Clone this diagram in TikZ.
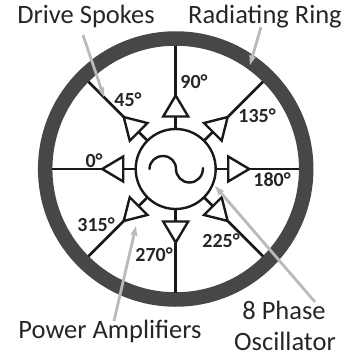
\documentclass[tikz,border=0pt]{standalone}
\usepackage{fontspec}
\setmainfont{Carlito}
\usetikzlibrary{shapes.geometric,arrows.meta,calc}
\tikzset{x=1pt,y=-1pt,
 ampbox/.style={draw=black!90,line width=2.4pt,isosceles triangle,isosceles triangle stretches,minimum height=21pt,minimum width=25pt,inner sep=0pt,outer sep=0pt,anchor=lower side,rotate=#1},
 wire/.style={draw=black!90,line width=2.6pt},
 callout/.style={draw=black!27,line width=2.8pt,-{Stealth[length=10pt,width=7pt,inset=2pt]}},
 lab/.style={font=\fontsize{26.5}{28}\selectfont,text=black!85,inner sep=0pt},
 deg/.style={font=\fontsize{20}{22}\selectfont\bfseries,text=black!85,inner sep=0pt}}
\begin{document}
\begin{tikzpicture}
\useasboundingbox (0,0) rectangle (346,356);
\coordinate (c) at (175.7,169);
\node[draw=black!72,line width=14.5pt,circle,minimum size=261pt,inner sep=0pt,outer sep=0pt] (ring) at (c) {};
\node[draw=black!90,line width=2.4pt,circle,minimum size=80pt,inner sep=0pt,outer sep=0pt] (osc) at (c) {};
\draw[black!90,line width=2.4pt,line cap=round] (149.5,169) .. controls (149.5,161.6) and (155.6,156) .. (163,156) .. controls (170.4,156) and (176,161.6) .. (176,169) .. controls (176,176.4) and (182,182.5) .. (189.5,182.5) .. controls (197,182.5) and (203,176.4) .. (203,168);
\foreach \n/\a in {0/180,45/135,90/90,135/45,180/0,225/-45,270/-90,315/-135}{
  \coordinate (b\n) at ($(c)+({52.5*cos(\a)},{-52.5*sin(\a)})$);
  \coordinate (e\n) at ($(c)+({123.5*cos(\a)},{-123.5*sin(\a)})$);
  \node[ampbox=\a] (amp\n) at (b\n) {};
  \draw[wire] (osc.\a) -- (amp\n.lower side);
  \draw[wire] (amp\n.apex) -- (e\n);
}
\node[deg] (d0) at (94,161) {0°};
\node[deg] (d45) at (128,100) {45°};
\node[deg] (d90) at (194,82) {90°};
\node[deg] (d135) at (257,116) {135°};
\node[deg] (d180) at (272,180) {180°};
\node[deg] (d225) at (221,241) {225°};
\node[deg] (d270) at (154,255) {270°};
\node[deg] (d315) at (96,225) {315°};
\node[lab] (t1) at (86,16) {Drive Spokes};
\node[lab] (t2) at (265,17) {Radiating Ring};
\node[lab] (t3) at (110,331) {Power Amplifiers};
\node[lab] (t4) at (284,310) {8 Phase};
\node[lab] (t5) at (285,341) {Oscillator};
\coordinate (a1s) at (83,35); \coordinate (a1e) at (104,97);
\coordinate (a2s) at (261,27); \coordinate (a2e) at (250,65);
\coordinate (a3s) at (114,321); \coordinate (a3e) at (136,226);
\coordinate (a4s) at (315,302); \coordinate (a4e) at (215,186);
\draw[callout] (a1s) -- (a1e);
\draw[callout] (a2s) -- (a2e);
\draw[callout] (a3s) -- (a3e);
\draw[callout] (a4s) -- (a4e);
\end{tikzpicture}
\end{document}
